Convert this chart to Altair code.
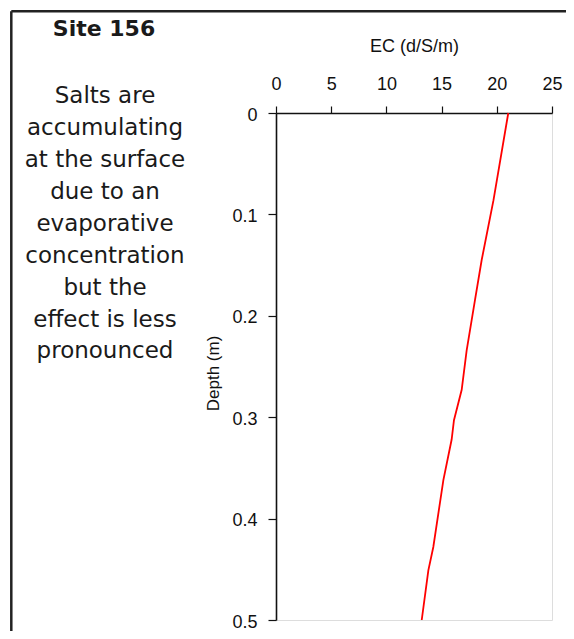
import altair as alt
import pandas as pd

# Data
depth = [0, 0.086, 0.145, 0.184, 0.234, 0.273, 0.303, 0.322, 0.362, 0.428, 0.451, 0.5]
ec = [21.04, 19.70, 18.63, 18.03, 17.27, 16.82, 16.12, 15.91, 15.16, 14.25, 13.80, 13.2]

x_ticks = [0, 5, 10, 15, 20, 25]
y_ticks = [0, 0.1, 0.2, 0.3, 0.4, 0.5]

site_title = "Site 156"
note_lines = [
    "Salts are",
    "accumulating",
    "at the surface",
    "due to an",
    "evaporative",
    "concentration",
    "but the",
    "effect is less",
    "pronounced",
]

df = pd.DataFrame({"depth": depth, "ec": ec})
one = alt.Data(values=[{"k": 1}])

AXFONT = "Liberation Sans"

line = alt.Chart(df).mark_line(color="#ff0000", strokeWidth=1.8, clip=False).encode(
    x=alt.X(
        "ec:Q",
        scale=alt.Scale(domain=[0, 25], nice=False, zero=False),
        axis=alt.Axis(
            orient="top",
            values=x_ticks,
            title="EC (d/S/m)",
            titleFont=AXFONT,
            titleFontSize=18,
            titleFontWeight="normal",
            titleColor="#111",
            titlePadding=20,
            labelFont=AXFONT,
            labelFontSize=18,
            labelColor="#111",
            labelPadding=13,
            labelFlush=False,
            labelOverlap=False,
            tickSize=7,
            tickWidth=1.2,
            tickColor="#111",
            domainColor="#111",
            domainWidth=1.6,
            grid=False,
        ),
    ),
    y=alt.Y(
        "depth:Q",
        scale=alt.Scale(domain=[0, 0.5], reverse=True, nice=False, zero=False),
        axis=alt.Axis(
            orient="left",
            values=y_ticks,
            labelExpr="datum.value == 0 ? '0' : format(datum.value, '.1f')",
            title="Depth (m)",
            titleFont=AXFONT,
            titleFontSize=17,
            titleFontWeight="normal",
            titleColor="#111",
            titlePadding=9,
            titleY=260,
            labelFont=AXFONT,
            labelFontSize=18,
            labelColor="#111",
            labelPadding=11,
            labelOffset=2,
            labelFlush=False,
            labelOverlap=False,
            tickSize=8,
            tickWidth=1.2,
            tickColor="#111",
            domainColor="#111",
            domainWidth=1.6,
            grid=False,
        ),
    ),
    order=alt.Order("depth:Q"),
)

title_txt = alt.Chart(one).mark_text(
    font="DejaVu Sans",
    fontSize=22,
    fontWeight="bold",
    align="center",
    baseline="alphabetic",
    color="#1a1a1a",
).encode(x=alt.value(-172), y=alt.value(-77), text=alt.value(site_title))

note_txt = alt.Chart(one).mark_text(
    font="DejaVu Sans",
    fontSize=23,
    align="center",
    baseline="alphabetic",
    lineBreak="\n",
    lineHeight=31.9,
    color="#1a1a1a",
).encode(x=alt.value(-171), y=alt.value(-9.7), text=alt.value("\n".join(note_lines)))

border_left = alt.Chart(one).mark_rule(color="#222", strokeWidth=2.5).encode(
    x=alt.value(-264.7), y=alt.value(-101.7), y2=alt.value(600)
)
border_top = alt.Chart(one).mark_rule(color="#222", strokeWidth=2.5).encode(
    x=alt.value(-264.7), x2=alt.value(400), y=alt.value(-101.7)
)

chart = (
    alt.layer(border_left, border_top, title_txt, note_txt, line)
    .properties(
        width=276,
        height=507,
        autosize=alt.AutoSizeParams(type="none"),
        padding={"left": 268, "top": 105, "right": 14, "bottom": 11},
    )
    .configure_view(stroke="#555", strokeWidth=1.5)
    .configure(background="white")
)

chart.save("out.html", embed_options={"renderer": "svg", "actions": False})
